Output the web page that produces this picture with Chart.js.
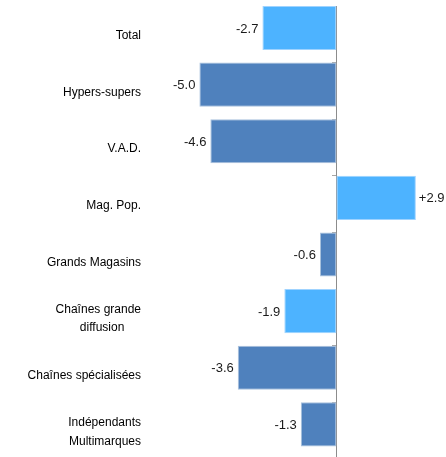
<!DOCTYPE html>
<html>
<head>
<meta charset="utf-8">
<script src="https://cdn.jsdelivr.net/npm/chart.js@4/dist/chart.umd.min.js"></script>
<style>
  html, body { margin: 0; padding: 0; background: #fff; overflow: hidden; }
  #wrap { width: 446px; height: 459px; }
</style>
</head>
<body>
<div id="wrap"><canvas id="c" width="446" height="459"></canvas></div>
<script>
const categories = [
  "Total",
  "Hypers-supers",
  "V.A.D.",
  "Mag. Pop.",
  "Grands Magasins",
  ["Chaînes grande", "diffusion     "],
  "Chaînes spécialisées",
  ["Indépendants", "Multimarques"]
];
const values = [-2.7, -5.0, -4.6, 2.9, -0.6, -1.9, -3.6, -1.3];
const highlighted = [true, false, false, true, false, true, false, false];

const LIGHT = "#4db3ff", LIGHT_EDGE = "#9fd3ff";
const DARK = "#4f81bd", DARK_EDGE = "#a9c1dd";
const LABEL_FONT = "'Liberation Sans Narrow', 'Arial Narrow', 'Liberation Sans', Arial, sans-serif";

const valueLabels = {
  id: "valueLabels",
  afterDatasetsDraw(chart) {
    const ctx = chart.ctx;
    const meta = chart.getDatasetMeta(0);
    ctx.save();
    ctx.font = "13px " + LABEL_FONT;
    ctx.fillStyle = "#1a1a1a";
    ctx.textBaseline = "middle";
    meta.data.forEach((bar, i) => {
      const v = values[i];
      const txt = (v > 0 ? "+" : "") + v.toFixed(1);
      if (v < 0) { ctx.textAlign = "right"; ctx.fillText(txt, bar.x - 4, bar.y + 1); }
      else { ctx.textAlign = "left"; ctx.fillText(txt, bar.x + 3, bar.y + 1); }
    });
    ctx.restore();
  }
};

new Chart(document.getElementById("c"), {
  type: "bar",
  data: {
    labels: categories,
    datasets: [{
      data: values.map((v, i) => ({ x: v, y: i })),
      yAxisID: "yb",
      xAxisID: "x",
      backgroundColor: highlighted.map(h => h ? LIGHT : DARK),
      borderColor: highlighted.map(h => h ? LIGHT_EDGE : DARK_EDGE),
      borderWidth: 1,
      borderSkipped: false,
      categoryPercentage: 1,
      barPercentage: 0.78
    }]
  },
  options: {
    indexAxis: "y",
    responsive: false,
    animation: false,
    layout: { padding: { top: 6, bottom: 0, left: 0, right: 0 } },
    plugins: { legend: { display: false }, tooltip: { enabled: false } },
    scales: {
      x: { type: "linear", min: -6, max: 4, display: false },
      yb: {
        type: "linear", min: -0.389, max: 7.611, reverse: true, display: false,
        offset: false, grid: { offset: false },
        afterBuildTicks(scale) { scale.ticks = categories.map((_, i) => ({ value: i })); }
      },
      y: {
        type: "category",
        position: "left",
        offset: true,
        grid: { display: false },
        border: { display: false },
        ticks: {
          autoSkip: false,
          padding: 23,
          labelOffset: 1.5,
          color: "#000",
          font: { family: LABEL_FONT, size: 12, lineHeight: 1.53 }
        },
        afterFit(scale) {
          scale.width = 172;
          scale.paddingTop = 0;
          scale.paddingBottom = 0;
        }
      },
      yt: {
        type: "category",
        position: { x: 0 },
        offset: true,
        grid: { offset: true, drawOnChartArea: false, drawTicks: true, tickLength: 4, color: "#a6a6a6" },
        border: { display: true, color: "#8c8c8c", width: 1 },
        ticks: { display: false },
        afterFit(scale) { scale.paddingTop = 0; scale.paddingBottom = 0; }
      }
    }
  },
  plugins: [valueLabels]
});
</script>
</body>
</html>
